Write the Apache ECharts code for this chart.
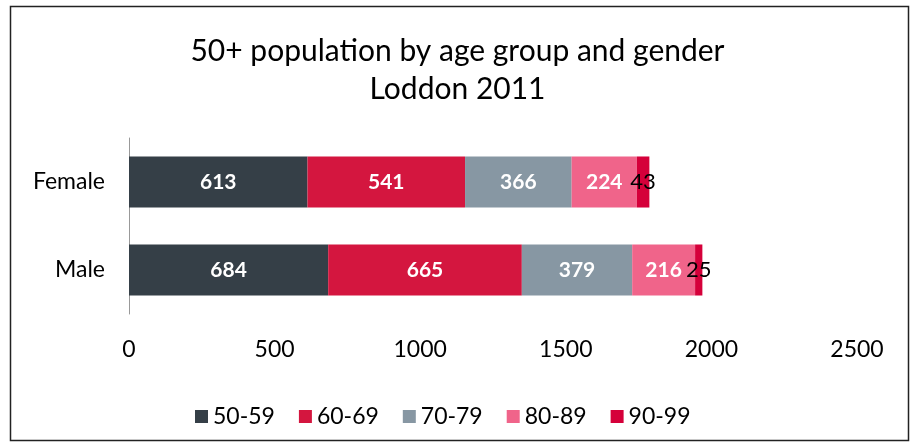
<!DOCTYPE html>
<html>
<head>
<meta charset="utf-8" />
<title>50+ population</title>
<script src="https://cdn.jsdelivr.net/npm/echarts@6/dist/echarts.min.js"></script>
<style>
  html, body { margin: 0; padding: 0; background: #fff; }
  #main { width: 915px; height: 446px; }
</style>
</head>
<body>
<div id="main"></div>
<script type="text/javascript">
var genders = ['Male', 'Female'];
var ageGroups = ['50-59', '60-69', '70-79', '80-89', '90-99'];
// values per age group: [Male, Female]
var v5059 = [684, 613];
var v6069 = [665, 541];
var v7079 = [379, 366];
var v8089 = [216, 224];
var v9099 = [25, 43];
var xTicks = [0, 500, 1000, 1500, 2000, 2500];

var colors = ['#353f47', '#d4163f', '#8797a3', '#f0648a', '#d5003a'];
var font = 'Lato, "Open Sans", sans-serif';

var myChart = echarts.init(document.getElementById('main'));

var allValues = [v5059, v6069, v7079, v8089, v9099];
var series = [];
for (var i = 0; i < ageGroups.length; i++) {
  var last = i === ageGroups.length - 1;
  series.push({
    name: ageGroups[i],
    type: 'bar',
    stack: 'total',
    barWidth: '58%',
    data: allValues[i],
    itemStyle: { color: colors[i] },
    label: {
      show: true,
      position: 'inside',
      color: last ? '#000' : '#fff',
      fontWeight: last ? 'normal' : 'bold',
      fontSize: last ? 22 : 21,
      fontFamily: font
    }
  });
}

var option = {
  animation: false,
  title: {
    text: '50+ population by age group and gender\nLoddon 2011',
    left: 'center',
    top: 27,
    textStyle: { fontSize: 30, fontWeight: 'normal', color: '#000', fontFamily: font, lineHeight: 38 }
  },
  legend: {
    data: ageGroups,
    bottom: 13,
    left: 190,
    itemWidth: 13,
    itemHeight: 13,
    itemGap: 24,
    icon: 'rect',
    textStyle: { fontSize: 23, color: '#000', fontFamily: font }
  },
  grid: { left: 129, right: 58, top: 138, bottom: 132, containLabel: false },
  xAxis: {
    type: 'value',
    min: xTicks[0],
    max: xTicks[xTicks.length - 1],
    interval: 500,
    axisLine: { show: false },
    axisTick: { show: false },
    splitLine: { show: false },
    axisLabel: {
      fontSize: 23, color: '#000', fontFamily: font, margin: 24,
      formatter: function (v) { return String(v); }
    }
  },
  yAxis: {
    type: 'category',
    data: genders,
    axisLine: { show: true, lineStyle: { color: '#999' } },
    axisTick: { show: false },
    axisLabel: { fontSize: 23, color: '#000', fontFamily: font, margin: 24 }
  },
  graphic: [{
    type: 'rect',
    shape: { x: 10.5, y: 6.5, width: 898, height: 434 },
    style: { fill: 'none', stroke: '#222', lineWidth: 1.5 },
    silent: true
  }],
  series: series
};

myChart.setOption(option);
</script>
</body>
</html>
